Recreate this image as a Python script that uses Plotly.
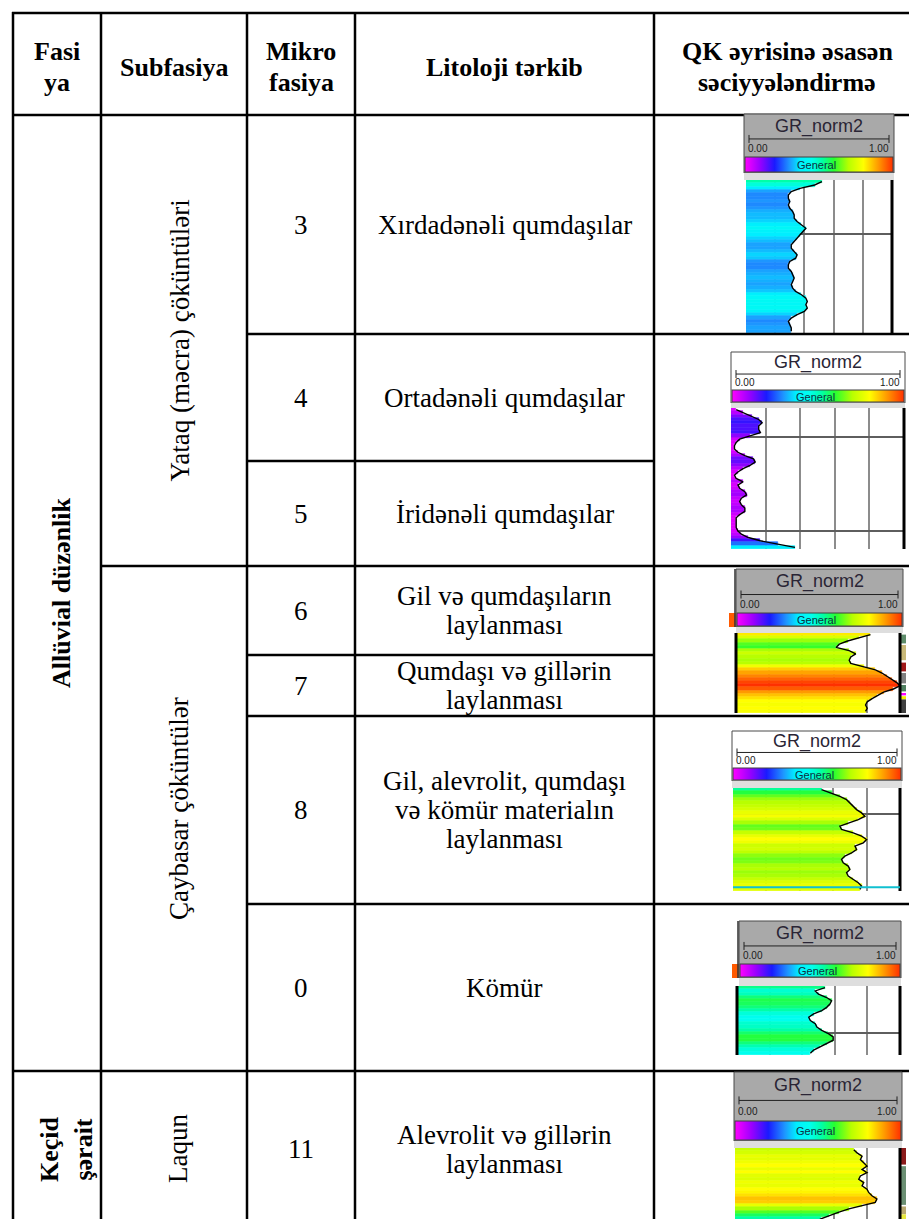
import plotly.graph_objects as go

W, H = 917, 1219

# ---------------- data ----------------
header = [["Fasi", "ya"], ["Subfasiya"], ["Mikro", "fasiya"], ["Litoloji tərkib"],
          ["QK əyrisinə əsasən", "səciyyələndirmə"]]
facies = ["Allüvial düzənlik", "Keçid<br>şərait"]
subfacies = ["Yataq (məcra) çöküntüləri", "Çaybasar çöküntülər", "Laqun"]
microfacies = ["3", "4", "5", "6", "7", "8", "0", "11"]
lithology = [
    ["Xırdadənəli qumdaşılar"],
    ["Ortadənəli qumdaşılar"],
    ["İridənəli qumdaşılar"],
    ["Gil və qumdaşıların", "laylanması"],
    ["Qumdaşı və gillərin", "laylanması"],
    ["Gil, alevrolit, qumdaşı", "və kömür materialın", "laylanması"],
    ["Kömür"],
    ["Alevrolit və gillərin", "laylanması"],
]
curve_name = "GR_norm2"
scale_min, scale_max = "0.00", "1.00"
palette_name = "General"

# GR_norm2 values (top to bottom)
gr_3 = [.52, .47, .37, .31, .29, .29, .30, .29, .30, .32, .33, .33, .35, .38, .41, .39,
        .37, .35, .33, .31, .31, .33, .35, .34, .30, .29, .29, .31, .32, .33, .32, .31,
        .32, .34, .38, .41, .42, .41, .42, .40, .35, .31, .29, .30, .31, .31]
gr_4_5 = [.03, .07, .12, .16, .18, .16, .16, .17, .11, .05, .03, .02, .02, .04, .08, .13,
          .14, .11, .07, .04, .02, .03, .07, .04, .05, .08, .09, .06, .05, .06, .08, .08,
          .05, .03, .03, .03, .03, .04, .06, .10, .17, .27, .37]
gr_6_7 = [.82, .75, .68, .63, .61, .69, .73, .70, .69, .70, .78, .85, .89, .92, .95, .98,
          1.0, .96, .90, .86, .83, .80, .79, .80, .79]
gr_8 = [.53, .59, .64, .68, .70, .72, .74, .77, .79, .75, .69, .64, .65, .72, .77, .80,
        .78, .73, .74, .71, .67, .65, .66, .69, .70, .68, .69, .72, .75, .77, .76]
gr_0 = [.54, .48, .50, .55, .58, .57, .55, .52, .47, .44, .45, .48, .49, .52, .56, .59,
        .59, .55, .51, .47, .45]
gr_11 = [.72, .74, .77, .76, .78, .80, .77, .80, .76, .75, .78, .77, .80, .81, .83, .86,
         .85, .77, .69, .63, .57, .52, .49, .49]

# neighbouring lithology-track colours visible at the right edge of two thumbnails
# (top fraction, bottom fraction, colour)
litho_6_7 = [(0.02, 0.13, '#5e8c6a'), (0.15, 0.34, '#c8b878'), (0.37, 0.48, '#a01818'),
             (0.50, 0.63, '#808080'), (0.65, 0.73, '#4f7f5f'), (0.75, 0.78, '#ff00ff'),
             (0.79, 0.83, '#f0f000'), (0.83, 1.00, '#404040')]
litho_11 = [(0.0, 0.21, '#8b1a1a'), (0.23, 0.72, '#6b8f73'), (0.74, 0.84, '#b8a870'),
            (0.84, 1.0, '#e8e840')]

GENERAL = [[0.0, '#ff00ff'], [0.1, '#9b00ff'], [0.2, '#1a1aff'], [0.3, '#1e96ff'],
           [0.37, '#00eeff'], [0.45, '#00ffee'], [0.52, '#00ffa8'], [0.6, '#28ff30'],
           [0.7, '#b8ff00'], [0.8, '#ffff00'], [0.9, '#ff9a00'], [1.0, '#ff3000']]

# ---------------- geometry (pixels) ----------------
col_x = [5, 93, 239, 347, 646, 912]
top_y = 5
head_y = 107
row_y = [107, 326, 453, 558, 647, 708, 896, 1063, 1223]

SERIF = "Liberation Serif, Times New Roman, serif"
SANS = "Liberation Sans, Arial, sans-serif"
FS = 27
FSH = 26

thumbs = [
    dict(vals=gr_3, hdr=106, cb=149, cbb=165, tt=172, tb=325, bl=736, br=886, tl=738, tr=884,
         gray=True, hl=[0.35], lb=False),
    dict(vals=gr_4_5, hdr=344, cb=382, cbb=395, tt=400, tb=541, bl=723, br=897, tl=723, tr=896,
         gray=False, hl=[0.204, 0.872], lb=False),
    dict(vals=gr_6_7, hdr=561, cb=605, cbb=619, tt=625, tb=705, bl=728, br=895, tl=728, tr=892,
         gray=True, hl=[], lb=True, litho=litho_6_7, stub=True),
    dict(vals=gr_8, hdr=723, cb=760, cbb=773, tt=780, tb=883, bl=724, br=894, tl=725, tr=892,
         gray=False, hl=[0.253], lb=False, marker=0.964),
    dict(vals=gr_0, hdr=913, cb=956, cbb=970, tt=978, tb=1047, bl=731, br=893, tl=729, tr=892,
         gray=True, hl=[0.68], lb=True, stub=True),
    dict(vals=gr_11, hdr=1064, cb=1113, cbb=1133, tt=1140, tb=1219, bl=726, br=894, tl=727, tr=892,
         gray=True, hl=[], lb=False, litho=litho_11),
]

fig = go.Figure()
fig.add_trace(go.Scatter(x=[None], y=[None], xaxis='x', yaxis='y', showlegend=False,
                         hoverinfo='skip'))
shapes = []
annotations = []
LW = 2.5


def hline(y, x0, x1, w=LW, color='black'):
    shapes.append(dict(type='line', xref='x', yref='y', x0=x0, x1=x1, y0=y, y1=y,
                       line=dict(color=color, width=w), layer='above'))


def vline(x, y0, y1, w=LW, color='black'):
    shapes.append(dict(type='line', xref='x', yref='y', x0=x, x1=x, y0=y0, y1=y1,
                       line=dict(color=color, width=w), layer='above'))


def rect(x0, x1, y0, y1, fill, xref='x', yref='y', lc=None, lw=0):
    shapes.append(dict(type='rect', xref=xref, yref=yref, x0=x0, x1=x1, y0=y0, y1=y1,
                       fillcolor=fill, line=dict(color=lc or fill, width=lw), layer='above'))


# table grid
for cx in col_x:
    vline(cx, top_y - 1, H)
hline(top_y, col_x[0] - 1, col_x[-1] + 1)
hline(head_y, col_x[0] - 1, col_x[-1] + 1)
hline(row_y[1], col_x[2], col_x[5])
hline(row_y[2], col_x[2], col_x[4])
hline(row_y[3], col_x[1], col_x[5])
hline(row_y[4], col_x[2], col_x[4])
hline(row_y[5], col_x[2], col_x[5])
hline(row_y[6], col_x[2], col_x[5])
hline(row_y[7], col_x[0], col_x[5])


def txt(x, y, s, size=FS, bold=False, angle=0, family=SERIF, color='black',
        xanchor='center', yanchor='middle'):
    annotations.append(dict(x=x, y=y, xref='x', yref='y', text=(f"<b>{s}</b>" if bold else s),
                            showarrow=False, textangle=angle, xanchor=xanchor, yanchor=yanchor,
                            font=dict(family=family, size=size, color=color)))


# header
hc = 59
HLS = 31
for i, lines in enumerate(header):
    n = len(lines)
    for j, s in enumerate(lines):
        txt((col_x[i] + col_x[i + 1]) / 2, hc + (j - (n - 1) / 2) * HLS, s, size=FSH, bold=True)

# facies / subfacies
txt(53, (head_y + row_y[7]) / 2, facies[0], size=FSH, bold=True, angle=-90)
txt(58, (row_y[7] + row_y[8]) / 2 - 2, facies[1], size=FSH, bold=True, angle=-90)
txt(171, (head_y + row_y[3]) / 2, subfacies[0], angle=-90)
txt(171, 801, subfacies[1], angle=-90)
txt(170, (row_y[7] + row_y[8]) / 2 - 2, subfacies[2], angle=-90)

# micro facies + lithology
LS = 29
for i, (m, lit) in enumerate(zip(microfacies, lithology)):
    yc = (row_y[i] + row_y[i + 1]) / 2
    if i == len(microfacies) - 1:
        yc -= 2
    txt((col_x[2] + col_x[3]) / 2, yc, m)
    n = len(lit)
    for j, line in enumerate(lit):
        txt((col_x[3] + col_x[4]) / 2, yc + (j - (n - 1) / 2) * LS, line)

layout_axes = {}
for i, t in enumerate(thumbs):
    k = i + 2
    vals = t['vals']
    n = len(vals)
    depth = list(range(n))
    fig.add_trace(go.Bar(
        x=vals, y=depth, orientation='h', width=1, base=0,
        marker=dict(color=vals, colorscale=GENERAL, cmin=0, cmax=1,
                    line=dict(width=0.6, color=vals, colorscale=GENERAL, cmin=0, cmax=1),
                    showscale=True,
                    colorbar=dict(orientation='h', x=(t['bl'] + 1) / W, xanchor='left',
                                  y=1 - t['cb'] / H, yanchor='top',
                                  len=t['br'] - t['bl'] - 2, lenmode='pixels',
                                  thickness=t['cbb'] - t['cb'] - 1, thicknessmode='pixels',
                                  xpad=0, ypad=0, outlinewidth=1, outlinecolor='#404040',
                                  ticks='', showticklabels=False, borderwidth=0)),
        xaxis=f'x{k}', yaxis=f'y{k}', showlegend=False, hoverinfo='skip'))
    fig.add_trace(go.Scatter(x=vals, y=depth, mode='lines', line=dict(color='black', width=1.4),
                             xaxis=f'x{k}', yaxis=f'y{k}', showlegend=False, hoverinfo='skip'))
    layout_axes[f'xaxis{k}'] = dict(domain=[t['tl'] / W, t['tr'] / W], range=[0, 1],
                                    anchor=f'y{k}', tickvals=[0.2, 0.4, 0.6, 0.8],
                                    showgrid=True, gridcolor='#8c8c8c', gridwidth=1.5,
                                    showticklabels=False, ticks='', zeroline=False,
                                    showline=False, fixedrange=True)
    layout_axes[f'yaxis{k}'] = dict(domain=[1 - t['tb'] / H, 1 - t['tt'] / H],
                                    range=[n - 0.5, -0.5], anchor=f'x{k}',
                                    tickvals=[f * n - 0.5 for f in t['hl']],
                                    showgrid=bool(t['hl']), gridcolor='#5e5e5e', gridwidth=2,
                                    showticklabels=False, ticks='', zeroline=False,
                                    showline=False, fixedrange=True)
    # neighbouring-track stubs on the left (cropped pieces)
    if t.get('stub'):
        rect(t['bl'] - 7, t['bl'], t['cb'], t['cbb'], '#ff5a00')
        vline(t['bl'] - 1, t['hdr'], t['cbb'], w=1.5, color='#303030')
    shapes.append(dict(type='rect', xref='x', yref='y', x0=t['bl'], x1=t['br'], y0=t['hdr'],
                       y1=t['cbb'], fillcolor='#a9a9a9' if t['gray'] else 'white',
                       line=dict(color='#4a4a4a', width=1), layer='above'))
    rect(t['bl'], t['br'], t['cbb'], t['tt'], '#dedede')
    hh = t['cb'] - t['hdr']
    sy = t['hdr'] + 0.58 * hh
    shapes.append(dict(type='line', xref='x', yref='y', x0=t['bl'] + 5, x1=t['br'] - 5,
                       y0=sy, y1=sy, line=dict(color='#202020', width=1), layer='above'))
    for ex in (t['bl'] + 5, t['br'] - 5):
        shapes.append(dict(type='line', xref='x', yref='y', x0=ex, x1=ex, y0=sy - 4, y1=sy + 4,
                           line=dict(color='#202020', width=1), layer='above'))
    txt((t['bl'] + t['br']) / 2, t['hdr'] + 0.28 * hh, curve_name, size=18, family=SANS,
        color='#2a2535')
    txt(t['bl'] + 2, t['hdr'] + 0.8 * hh, scale_min, size=10, family=SANS, color='#202020',
        xanchor='left')
    txt(t['br'] - 3, t['hdr'] + 0.8 * hh, scale_max, size=10, family=SANS, color='#202020',
        xanchor='right')
    txt((t['bl'] + t['br']) / 2 - 3, (t['cb'] + t['cbb']) / 2, palette_name, size=11,
        family=SANS, color='#0d2f3f')
    # lithology strip beside the track
    if t.get('litho'):
        for f0, f1, c in t['litho']:
            rect(t['tr'] + 1, t['tr'] + 6, t['tt'] + f0 * (t['tb'] - t['tt']),
                 t['tt'] + f1 * (t['tb'] - t['tt']), c)
    shapes.append(dict(type='line', xref=f'x{k} domain', yref=f'y{k} domain', x0=1, x1=1,
                       y0=0, y1=1, line=dict(color='black', width=3), layer='above'))
    if t['lb']:
        shapes.append(dict(type='line', xref=f'x{k} domain', yref=f'y{k} domain', x0=0, x1=0,
                           y0=0, y1=1, line=dict(color='black', width=3), layer='above'))
    if 'marker' in t:
        my = 1 - t['marker']
        shapes.append(dict(type='line', xref=f'x{k} domain', yref=f'y{k} domain', x0=0, x1=1,
                           y0=my, y1=my, line=dict(color='#10c0d0', width=2), layer='above'))

fig.update_layout(
    width=W, height=H, margin=dict(l=0, r=0, t=0, b=0),
    paper_bgcolor='white', plot_bgcolor='rgba(0,0,0,0)', showlegend=False,
    xaxis=dict(domain=[0, 1], range=[0, W], visible=False, fixedrange=True),
    yaxis=dict(domain=[0, 1], range=[H, 0], visible=False, fixedrange=True),
    shapes=shapes, annotations=annotations, bargap=0,
    **layout_axes,
)

fig.write_html("out.html")
